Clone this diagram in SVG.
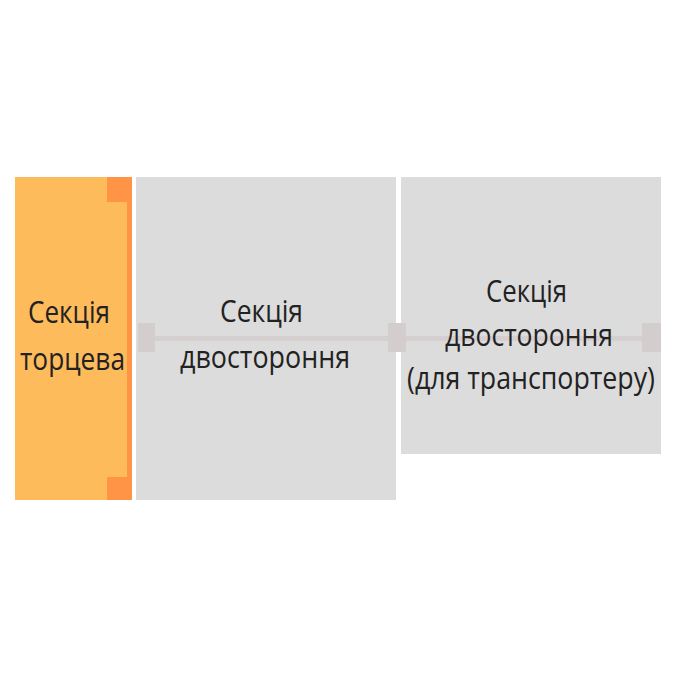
<svg xmlns="http://www.w3.org/2000/svg" width="680" height="680" viewBox="0 0 680 680">
<style>
.lbl{font-family:"Open Sans","Noto Sans","DejaVu Sans",sans-serif;font-size:31px;fill:#222;text-anchor:middle}
.gray{fill:#dcdcdc}
.pad{fill:#d3cdcd}
.acc{fill:#ff9447}
.wire{fill:#d6cfcf}
</style>
<rect width="680" height="680" fill="#fff"/>
<g id="connectors">
<rect class="wire" x="155" y="336" width="233" height="5"/>
<rect class="wire" x="406" y="336" width="236" height="5"/>
</g>
<g id="section-end">
<rect x="15" y="177" width="116" height="323" fill="#fdbb5c"/>
<rect class="acc" x="127" y="177" width="5" height="323"/>
<rect class="acc" x="107" y="177" width="25" height="25"/>
<rect class="acc" x="107" y="477" width="25" height="23"/>
<text class="lbl" x="69" y="323" textLength="82" lengthAdjust="spacingAndGlyphs">Секція</text>
<text class="lbl" x="72.5" y="370" textLength="105" lengthAdjust="spacingAndGlyphs">торцева</text>
</g>
<g id="section-double">
<rect class="gray" x="136" y="177" width="260" height="323"/>
<rect class="pad" x="138" y="323" width="17" height="29"/>
<rect class="wire" x="155" y="336" width="233" height="5"/>
<text class="lbl" x="261.5" y="322" textLength="83" lengthAdjust="spacingAndGlyphs">Секція</text>
<text class="lbl" x="265" y="368" textLength="170" lengthAdjust="spacingAndGlyphs">двостороння</text>
</g>
<g id="section-transport">
<rect class="gray" x="401" y="177" width="260" height="277"/>
<rect class="pad" x="388" y="323" width="18" height="29"/>
<rect class="pad" x="642" y="323" width="19" height="29"/>
<rect class="wire" x="406" y="336" width="236" height="5"/>
<text class="lbl" x="526.5" y="302" textLength="81" lengthAdjust="spacingAndGlyphs">Секція</text>
<text class="lbl" x="529" y="346" textLength="168" lengthAdjust="spacingAndGlyphs">двостороння</text>
<text class="lbl" x="531" y="389" textLength="248" lengthAdjust="spacingAndGlyphs">(для транспортеру)</text>
</g>
</svg>
